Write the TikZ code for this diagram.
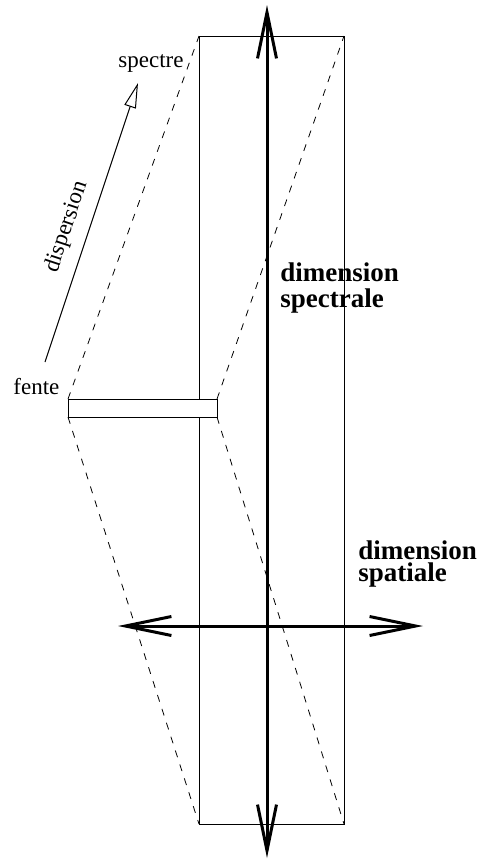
\documentclass[tikz,border=0pt]{standalone}
\usepackage{fontspec}
\setmainfont{Liberation Serif}
\usetikzlibrary{arrows.meta}

\begin{document}
\begin{tikzpicture}[x=0.5pt,y=-0.5pt,
  lab/.style={font=\fontsize{11.5}{12}\selectfont,inner sep=0pt},
  labB/.style={font=\fontsize{13.5}{13}\selectfont\bfseries,align=left,inner sep=0pt},
  axe/.style={line width=1.5pt,{Straight Barb[length=23pt,width=9.5pt]}-{Straight Barb[length=23pt,width=9.5pt]}},
  rayon/.style={dash pattern=on 3.5pt off 3.8pt,line width=0.4pt}]
\useasboundingbox (0,0) rectangle (481,859);
% detector frame and slit corners
\coordinate (ccd-nw) at (199,36);  \coordinate (ccd-ne) at (344,36);
\coordinate (ccd-sw) at (199,824); \coordinate (ccd-se) at (344,824);
\coordinate (fente-nw) at (68,399); \coordinate (fente-ne) at (217,399);
\coordinate (fente-sw) at (68,417); \coordinate (fente-se) at (217,417);
\draw[line width=0.5pt] (ccd-nw) rectangle (ccd-se);
\draw[line width=0.5pt,fill=white] (fente-nw) rectangle (fente-se);
% projection of the slit onto the frame
\draw[rayon] (fente-nw) -- (ccd-nw);
\draw[rayon] (fente-ne) -- (ccd-ne);
\draw[rayon] (fente-sw) -- (ccd-sw);
\draw[rayon] (fente-se) -- (ccd-se);
% the two axes
\coordinate (spec-n) at (267,5);  \coordinate (spec-s) at (267,858);
\coordinate (spat-w) at (118,626); \coordinate (spat-e) at (423,626);
\draw[axe] (spec-s) -- (spec-n);
\draw[axe] (spat-w) -- (spat-e);
% dispersion direction
\coordinate (disp-a) at (45,362); \coordinate (disp-b) at (138,83);
\draw[line width=0.5pt,-{Triangle[open,length=12.5pt,width=6pt]}] (disp-a) -- (disp-b)
  node[lab,pos=0.46,above=5.5pt,sloped] (disp) {dispersion};
% labels
\node[lab,anchor=base west] (spectre) at (118,67) {spectre};
\node[lab,anchor=base west] (fente) at (13,394) {fente};
\node[labB,anchor=base west] (dimspec) at (280,307) {dimension\\spectrale};
\node[labB,anchor=base west,font=\fontsize{13.5}{11}\selectfont\bfseries] (dimspat) at (358,581) {dimension\\spatiale};
\end{tikzpicture}
\end{document}
